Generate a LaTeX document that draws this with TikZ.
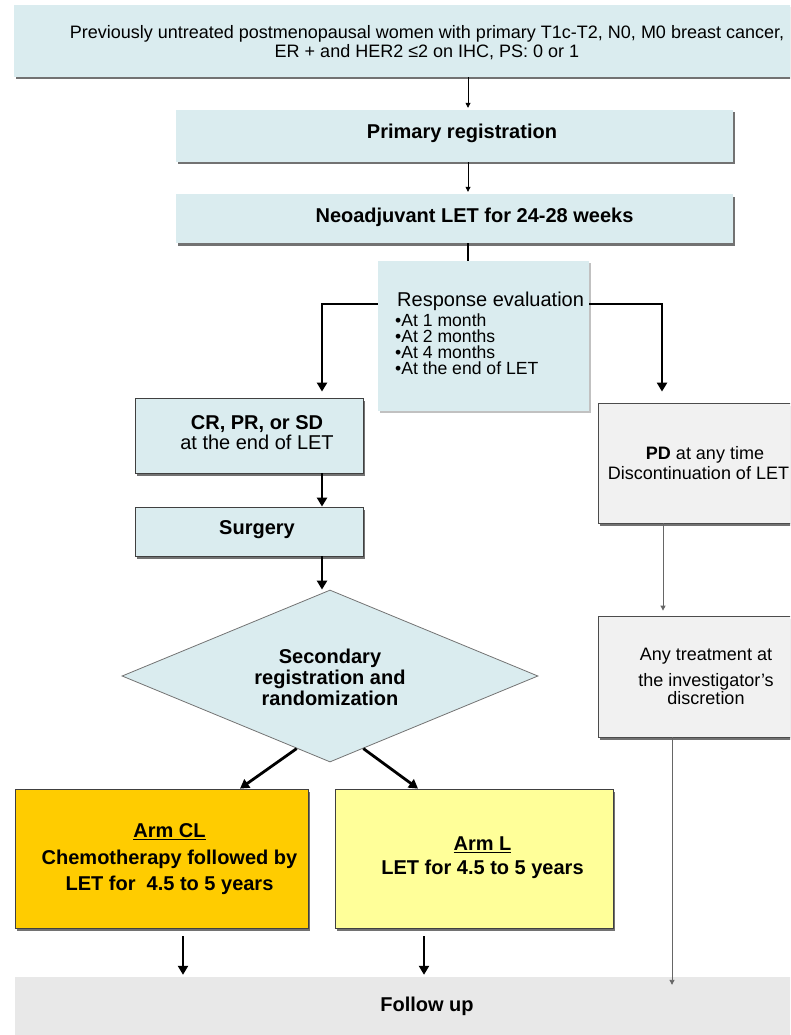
\documentclass[tikz,border=0pt]{standalone}
\usepackage{fontspec}
\setmainfont{Liberation Sans}
\usetikzlibrary{shapes.geometric,shadows,arrows.meta,calc}

\definecolor{lblue}{RGB}{218,236,239}
\definecolor{pdgray}{RGB}{241,241,241}
\definecolor{fugray}{RGB}{232,232,232}
\definecolor{armorange}{RGB}{255,204,0}
\definecolor{armyellow}{RGB}{255,255,153}

\newcommand\fsTop{\fontsize{18}{19}\selectfont}
\newcommand\fsHead{\fontsize{20}{20}\selectfont\bfseries}
\newcommand\fsDia{\fontsize{20}{21}\selectfont\bfseries}

\begin{document}
\begin{tikzpicture}[x=1pt,y=-1pt,
  box/.style={rectangle,inner sep=0pt,fill=lblue,draw=none},
  framed/.style={draw=black!75,line width=0.8pt},
  shade/.style={drop shadow={shadow xshift=2pt,shadow yshift=-2.5pt,fill=black!65,opacity=0.85}},
  softshade/.style={drop shadow={shadow xshift=2pt,shadow yshift=-2pt,fill=black!35,opacity=0.7}},
  txt/.style={inner sep=0pt,align=center},
  thinarrow/.style={draw=black,line width=0.8pt,-{Triangle[length=5pt,width=5pt]}},
  grayarrow/.style={draw=black!60,line width=0.9pt,-{Triangle[length=5pt,width=5pt]}},
  bigarrow/.style={line width=2.8pt,line join=miter,-{Triangle[length=9pt,width=10pt]}},
  thickline/.style={line width=2.8pt}]

\useasboundingbox (0,0) rectangle (790,1035);
\clip (0,0) rectangle (790,1035);

% eligibility
\node[box,shade,minimum width=826pt,minimum height=72pt] (top) at (427,41) {};
\node[txt,font=\fsTop] (toptxt) at (427,42.5)
  {Previously untreated postmenopausal women with primary T1c-T2, N0, M0 breast cancer,\\
   ER + and HER2 ≤2 on IHC, PS: 0 or 1};

% registration and neoadjuvant therapy
\node[box,shade,minimum width=557pt,minimum height=52pt] (prim) at (454.5,136) {};
\node[txt,font=\fsHead] (primtxt) at (462,133) {Primary registration};
\node[box,shade,minimum width=557pt,minimum height=49pt] (neo) at (454.5,218.5) {};
\node[txt,font=\fsHead] (neotxt) at (474.5,217) {Neoadjuvant LET for 24-28 weeks};

% response evaluation
\node[box,softshade,minimum width=211pt,minimum height=150pt] (resp) at (483.5,336) {};
\node[inner sep=0pt,anchor=base west,font=\fontsize{20}{20}\selectfont] (resptitle) at (397,306) {Response evaluation};
\foreach \t [count=\i] in {At 1 month,At 2 months,At 4 months,At the end of LET}
  \node[inner sep=0pt,anchor=base west,font=\fontsize{17.6}{17}\selectfont] (r\i) at (395,{326+16.3*(\i-1)}) {•\t};

% responders
\node[box,framed,shade,minimum width=228pt,minimum height=75pt] (cr) at (249,435.5) {};
\node[inner sep=0pt,font=\fontsize{20}{20}\selectfont\bfseries] (crtxt1) at (257,424) {CR, PR, or SD};
\node[inner sep=0pt,font=\fontsize{20}{20}\selectfont] (crtxt2) at (257,442) {at the end of LET};
\node[box,framed,shade,minimum width=228pt,minimum height=49pt] (surg) at (249,531.5) {};
\node[txt,font=\fsHead] (surgtxt) at (257,530) {Surgery};

% randomization
\node[diamond,inner sep=0pt,fill=lblue,draw=black!55,line width=0.8pt,
      minimum width=416pt,minimum height=172pt] (dia) at (330,676) {};
\node[txt,font=\fsDia] (diatxt) at (330,677) {Secondary\\registration and\\randomization};

% arms
\node[rectangle,inner sep=0pt,fill=armorange,framed,shade,minimum width=293pt,minimum height=139pt] (cl) at (161.5,858.5) {};
\node[txt,font=\fontsize{20}{26.5}\selectfont\bfseries] (cltxt) at (169.5,859.5)
  {\underline{Arm CL}\\Chemotherapy followed by\\LET for\ \ 4.5 to 5 years};
\node[rectangle,inner sep=0pt,fill=armyellow,framed,shade,minimum width=278pt,minimum height=139pt] (al) at (474,858.5) {};
\node[txt,font=\fontsize{20}{24}\selectfont\bfseries] (altxt) at (482.5,858)
  {\underline{Arm L}\\LET for 4.5 to 5 years};

% follow up
\node[rectangle,inner sep=0pt,fill=fugray,minimum width=825pt,minimum height=63pt] (fu) at (427.5,1008.5) {};
\node[txt,font=\fsHead] (futxt) at (427,1006) {Follow up};

% progression branch
\node[rectangle,inner sep=0pt,fill=pdgray,draw=black!70,line width=0.8pt,shade,minimum width=220pt,minimum height=120pt] (pd) at (708,463) {};
\node[inner sep=0pt,font=\fontsize{18}{18}\selectfont] (pdtxt1) at (705,455) {\textbf{PD} at any time};
\node[inner sep=0pt,font=\fontsize{18}{18}\selectfont] (pdtxt2) at (698.5,473) {Discontinuation of LET};
\node[rectangle,inner sep=0pt,fill=pdgray,draw=black!70,line width=0.8pt,shade,minimum width=220pt,minimum height=121pt] (trt) at (708,676.5) {};
\node[txt,font=\fontsize{18}{18}\selectfont] (trttxt) at (706,676) {Any treatment at\\[8pt]the investigator's\\discretion};

% connector columns
\coordinate (ax) at (468,0);
\coordinate (ry) at (0,304);
\coordinate (lx) at (322,0);
\coordinate (rx) at (662,0);
\coordinate (clx) at (240,0);
\coordinate (alx) at (418,0);
\coordinate (c1) at (183,0);
\coordinate (c2) at (424,0);
\coordinate (px) at (663,0);
\coordinate (qx) at (672,0);

\draw[thinarrow] (top.south -| ax) -- ($(prim.north -| ax)+(0,-2)$);
\draw[thinarrow] (prim.south -| ax) -- ($(neo.north -| ax)+(0,-2)$);
\draw[thickline] (neo.south -| ax) -- (resp.north -| ax);
\draw[bigarrow] (resp.west |- ry) -| ($(cr.north -| lx)+(0,-6)$);
\draw[bigarrow] (resp.east |- ry) -| ($(pd.north -| rx)+(0,-11)$);
\draw[bigarrow] (cr.south -| lx) -- (surg.north -| lx);
\draw[bigarrow] (surg.south -| lx) -- (dia.north -| lx);
\draw[bigarrow] ($(dia.south)!0.16!(dia.west)$) -- (cl.north -| clx);
\draw[bigarrow] ($(dia.south)!0.16!(dia.east)$) -- (al.north -| alx);
\draw[bigarrow] ($(cl.south -| c1)+(0,8)$) -- ($(fu.north -| c1)+(0,-2)$);
\draw[bigarrow] ($(al.south -| c2)+(0,8)$) -- ($(fu.north -| c2)+(0,-2)$);
\draw[grayarrow] (pd.south -| px) -- ($(trt.north -| px)+(0,-5)$);
\draw[grayarrow] (trt.south -| qx) -- ($(fu.north -| qx)+(0,8)$);
\end{tikzpicture}
\end{document}
